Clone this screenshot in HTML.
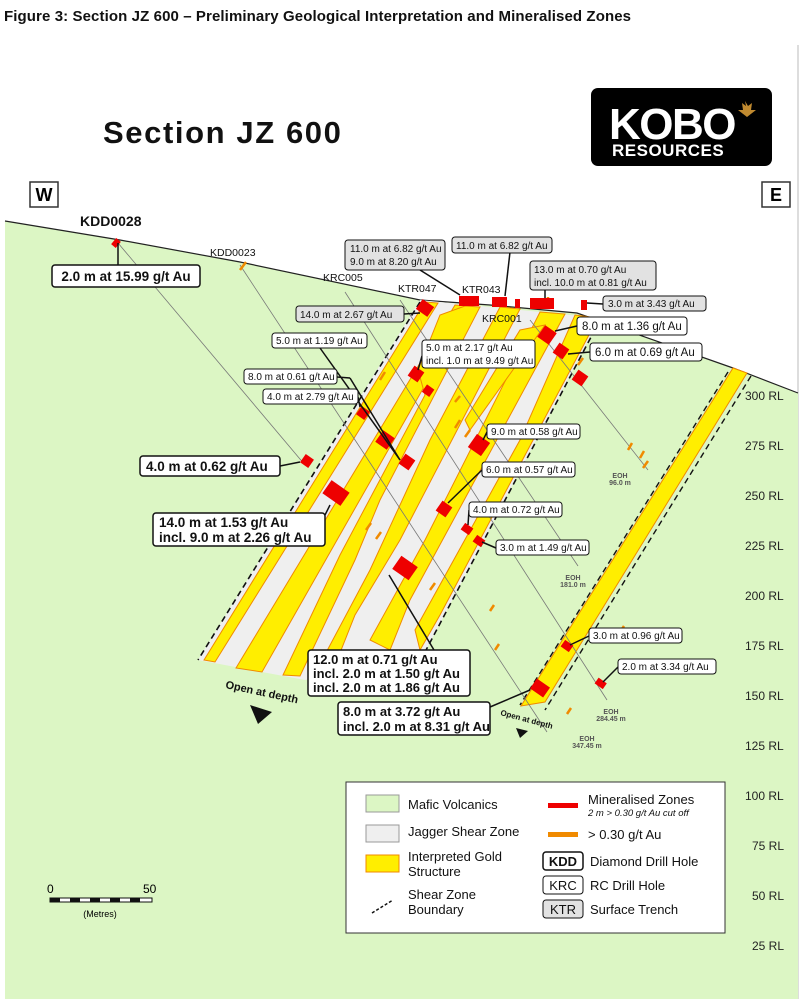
<!DOCTYPE html>
<html><head><meta charset="utf-8"><style>
body{margin:0;background:#fff;}
svg{display:block;font-family:"Liberation Sans",sans-serif;}
</style></head><body>
<svg width="802" height="999" viewBox="0 0 802 999" xmlns="http://www.w3.org/2000/svg">
<rect width="802" height="999" fill="#fff"/>
<text x="4" y="21" font-size="15" font-weight="bold" fill="#111" letter-spacing="0.1">Figure 3: Section JZ 600 – Preliminary Geological Interpretation and Mineralised Zones</text>
<line x1="798" y1="45" x2="798" y2="999" stroke="#bbb"/>
<polygon points="5,221 120,240 240,262 420,300 490,305 577,313 733,368 798,393 798,999 5,999" fill="#dcf6c4"/>
<polyline points="5,221 120,240 240,262 420,300 490,305 577,313 733,368 798,393" fill="none" stroke="#222" stroke-width="1.2"/>
<polygon points="420,300 600,318 425,652 305,680 198,660" fill="#efefef"/>
<g fill="#ffee00" stroke="#f08a00" stroke-width="1">
<polygon points="425,302 438,303 215,662 204,660"/>
<polygon points="455,305 470,306 262,672 236,668"/>
<polygon points="425,395 418,370 440,315 465,306 480,307 380,500 355,560 300,676 283,675 340,555"/>
<polygon points="500,307 520,309 400,540 355,615 330,678 312,679 370,570 430,440"/>
<polygon points="540,312 565,314 410,600 390,650 370,640 425,540"/>
<polygon points="575,315 598,318 440,615 420,650 415,630 520,440"/>
<polygon points="520,330 545,325 470,430 465,420"/>
</g>
<line x1="420" y1="302" x2="198" y2="660" stroke="#111" stroke-width="1.6" stroke-dasharray="6,4"/>
<line x1="600" y1="320" x2="425" y2="652" stroke="#111" stroke-width="1.6" stroke-dasharray="6,4"/>
<polygon points="733,368 747,373 545,702 521,706" fill="#ffee00" stroke="#f08a00"/>
<line x1="728" y1="372" x2="520" y2="705" stroke="#111" stroke-width="1.4" stroke-dasharray="6,4"/>
<line x1="751" y1="376" x2="545" y2="710" stroke="#111" stroke-width="1.4" stroke-dasharray="6,4"/>
<g stroke="#777" stroke-width="0.8">
<line x1="118" y1="243" x2="305" y2="465"/>
<line x1="240" y1="265" x2="547" y2="732"/>
<line x1="345" y1="292" x2="607" y2="700"/>
<line x1="400" y1="300" x2="578" y2="566"/>
<line x1="530" y1="320" x2="648" y2="470"/>
</g>
<g fill="#555" font-size="7" font-weight="bold" text-anchor="middle">
<text x="620" y="478">EOH</text><text x="620" y="485">96.0 m</text>
<text x="573" y="580">EOH</text><text x="573" y="587">181.0 m</text>
<text x="611" y="714">EOH</text><text x="611" y="721">284.45 m</text>
<text x="587" y="741">EOH</text><text x="587" y="748">347.45 m</text>
</g>
<g stroke="#f08a00" stroke-width="2.5">
<line x1="240" y1="270" x2="246" y2="262"/><line x1="380" y1="380" x2="385" y2="372"/>
<line x1="455" y1="402" x2="460" y2="396"/><line x1="455" y1="428" x2="460" y2="420"/>
<line x1="465" y1="437" x2="470" y2="430"/><line x1="366" y1="530" x2="371" y2="523"/>
<line x1="376" y1="539" x2="381" y2="532"/><line x1="430" y1="590" x2="435" y2="583"/>
<line x1="490" y1="611" x2="494" y2="605"/><line x1="495" y1="650" x2="499" y2="644"/>
<line x1="567" y1="714" x2="571" y2="708"/><line x1="620" y1="632" x2="624" y2="626"/>
<line x1="628" y1="450" x2="632" y2="443"/><line x1="640" y1="458" x2="644" y2="451"/>
<line x1="643" y1="468" x2="648" y2="461"/><line x1="578" y1="365" x2="583" y2="358"/>
<line x1="548" y1="305" x2="548" y2="297"/><line x1="470" y1="358" x2="476" y2="350"/>
</g>
<g fill="#ee0000">
<rect x="459" y="296" width="20" height="10"/><rect x="492" y="297" width="15" height="10"/>
<rect x="515" y="299" width="5" height="9"/><rect x="530" y="298" width="24" height="11"/>
<rect x="581" y="300" width="6" height="10"/>
<rect x="418" y="302" width="14" height="12" transform="rotate(35 425 308)"/>
<rect x="540" y="328" width="14" height="14" transform="rotate(35 547 335)"/>
<rect x="555" y="345" width="12" height="12" transform="rotate(35 561 351)"/>
<rect x="574" y="372" width="12" height="12" transform="rotate(35 580 378)"/>
<rect x="410" y="368" width="12" height="12" transform="rotate(35 416 374)"/>
<rect x="424" y="386" width="9" height="9" transform="rotate(35 428 390)"/>
<rect x="358" y="408" width="10" height="10" transform="rotate(35 363 413)"/>
<rect x="378" y="433" width="14" height="14" transform="rotate(35 385 440)"/>
<rect x="401" y="456" width="12" height="12" transform="rotate(35 407 462)"/>
<rect x="471" y="437" width="16" height="16" transform="rotate(35 479 445)"/>
<rect x="302" y="456" width="10" height="10" transform="rotate(35 307 461)"/>
<rect x="325" y="485" width="22" height="16" transform="rotate(35 336 493)"/>
<rect x="438" y="503" width="12" height="12" transform="rotate(35 444 509)"/>
<rect x="462" y="525" width="10" height="8" transform="rotate(35 467 529)"/>
<rect x="474" y="537" width="10" height="8" transform="rotate(35 479 541)"/>
<rect x="395" y="560" width="20" height="16" transform="rotate(35 405 568)"/>
<rect x="562" y="642" width="10" height="8" transform="rotate(35 567 646)"/>
<rect x="596" y="680" width="10" height="7" transform="rotate(35 601 683)"/>
<rect x="532" y="682" width="16" height="12" transform="rotate(35 540 688)"/>
<rect x="112" y="240" width="8" height="6" transform="rotate(-50 116 243)"/>
</g>
<g stroke="#111" stroke-width="1.5" fill="none">
<line x1="118" y1="243" x2="118" y2="265"/>
<line x1="420" y1="270" x2="460" y2="295"/>
<line x1="510" y1="252" x2="505" y2="296"/>
<line x1="545" y1="290" x2="545" y2="298"/>
<line x1="587" y1="303" x2="603" y2="304"/>
<line x1="404" y1="314" x2="420" y2="313"/>
<line x1="555" y1="331" x2="577" y2="326"/>
<line x1="568" y1="354" x2="590" y2="352"/>
<line x1="320" y1="348" x2="400" y2="460"/>
<line x1="422" y1="356" x2="418" y2="370"/>
<line x1="337" y1="377" x2="350" y2="378"/><line x1="350" y1="378" x2="400" y2="460"/>
<line x1="358" y1="397" x2="360" y2="407"/>
<line x1="487" y1="432" x2="483" y2="440"/>
<line x1="280" y1="466" x2="300" y2="462"/>
<line x1="482" y1="470" x2="448" y2="503"/>
<line x1="325" y1="515" x2="330" y2="505"/>
<line x1="469" y1="510" x2="468" y2="525"/>
<line x1="496" y1="548" x2="482" y2="542"/>
<line x1="389" y1="575" x2="434" y2="650"/>
<line x1="490" y1="707" x2="530" y2="690"/>
<line x1="589" y1="636" x2="570" y2="645"/>
<line x1="618" y1="667" x2="603" y2="682"/>
</g>
<g font-size="10" fill="#111">
<rect x="52" y="265" width="148" height="22" rx="3" fill="#fff" stroke="#111" stroke-width="1.5"/>
<text x="126" y="281" font-size="13.5" font-weight="bold" text-anchor="middle">2.0 m at 15.99 g/t Au</text>
<rect x="345" y="240" width="100" height="30" rx="3" fill="#e2e2e2" stroke="#111"/>
<text x="350" y="252">11.0 m at 6.82 g/t Au</text><text x="350" y="265">9.0 m at 8.20 g/t Au</text>
<rect x="452" y="237" width="100" height="16" rx="3" fill="#e2e2e2" stroke="#111"/>
<text x="456" y="249">11.0 m at 6.82 g/t Au</text>
<rect x="530" y="261" width="126" height="29" rx="3" fill="#e2e2e2" stroke="#111"/>
<text x="534" y="273">13.0 m at 0.70 g/t Au</text><text x="534" y="286">incl. 10.0 m at 0.81 g/t Au</text>
<rect x="603" y="296" width="103" height="15" rx="3" fill="#e2e2e2" stroke="#111"/>
<text x="608" y="307">3.0 m at 3.43 g/t Au</text>
<rect x="296" y="306" width="108" height="16" rx="3" fill="#e2e2e2" stroke="#111"/>
<text x="300" y="318">14.0 m at 2.67 g/t Au</text>
<rect x="577" y="317" width="110" height="18" rx="3" fill="#fff" stroke="#111"/>
<text x="582" y="330" font-size="11.5">8.0 m at 1.36 g/t Au</text>
<rect x="590" y="343" width="112" height="18" rx="3" fill="#fff" stroke="#111"/>
<text x="595" y="356" font-size="11.5">6.0 m at 0.69 g/t Au</text>
<rect x="272" y="333" width="95" height="15" rx="3" fill="#fff" stroke="#111"/>
<text x="276" y="344">5.0 m at 1.19 g/t Au</text>
<rect x="422" y="340" width="113" height="28" rx="3" fill="#fff" stroke="#111"/>
<text x="426" y="351">5.0 m at 2.17 g/t Au</text><text x="426" y="364">incl. 1.0 m at 9.49 g/t Au</text>
<rect x="244" y="369" width="93" height="15" rx="3" fill="#fff" stroke="#111"/>
<text x="248" y="380">8.0 m at 0.61 g/t Au</text>
<rect x="263" y="389" width="95" height="15" rx="3" fill="#fff" stroke="#111"/>
<text x="267" y="400">4.0 m at 2.79 g/t Au</text>
<rect x="487" y="424" width="93" height="15" rx="3" fill="#fff" stroke="#111"/>
<text x="491" y="435">9.0 m at 0.58 g/t Au</text>
<rect x="140" y="456" width="140" height="20" rx="3" fill="#fff" stroke="#111" stroke-width="1.5"/>
<text x="146" y="471" font-size="13.5" font-weight="bold">4.0 m at 0.62 g/t Au</text>
<rect x="482" y="462" width="93" height="15" rx="3" fill="#fff" stroke="#111"/>
<text x="486" y="473">6.0 m at 0.57 g/t Au</text>
<rect x="469" y="502" width="93" height="15" rx="3" fill="#fff" stroke="#111"/>
<text x="473" y="513">4.0 m at 0.72 g/t Au</text>
<rect x="496" y="540" width="93" height="15" rx="3" fill="#fff" stroke="#111"/>
<text x="500" y="551">3.0 m at 1.49 g/t Au</text>
<rect x="153" y="513" width="172" height="33" rx="3" fill="#fff" stroke="#111" stroke-width="1.5"/>
<text x="159" y="527" font-size="13.5" font-weight="bold">14.0 m at 1.53 g/t Au</text>
<text x="159" y="542" font-size="13.5" font-weight="bold">incl. 9.0 m at 2.26 g/t Au</text>
<rect x="589" y="628" width="93" height="15" rx="3" fill="#fff" stroke="#111"/>
<text x="593" y="639">3.0 m at 0.96 g/t Au</text>
<rect x="618" y="659" width="98" height="15" rx="3" fill="#fff" stroke="#111"/>
<text x="622" y="670">2.0 m at 3.34 g/t Au</text>
<rect x="308" y="650" width="162" height="46" rx="3" fill="#fff" stroke="#111" stroke-width="1.5"/>
<text x="313" y="664" font-size="13" font-weight="bold">12.0 m at 0.71 g/t Au</text>
<text x="313" y="678" font-size="13" font-weight="bold">incl. 2.0 m at 1.50 g/t Au</text>
<text x="313" y="692" font-size="13" font-weight="bold">incl. 2.0 m at 1.86 g/t Au</text>
<rect x="338" y="702" width="152" height="33" rx="3" fill="#fff" stroke="#111" stroke-width="1.5"/>
<text x="343" y="716" font-size="13" font-weight="bold">8.0 m at 3.72 g/t Au</text>
<text x="343" y="731" font-size="13" font-weight="bold">incl. 2.0 m at 8.31 g/t Au</text>
</g>
<g fill="#111" font-size="10.5">
<text x="80" y="226" font-size="14" font-weight="bold">KDD0028</text>
<text x="210" y="256">KDD0023</text>
<text x="323" y="281">KRC005</text>
<text x="398" y="292">KTR047</text>
<text x="462" y="293">KTR043</text>
<text x="482" y="322">KRC001</text>
</g>
<text x="225" y="688" font-size="11" font-weight="bold" fill="#111" transform="rotate(12 225 688)">Open at depth</text>
<polygon points="250,705 272,712 258,724" fill="#111"/>
<text x="500" y="715" font-size="8" font-weight="bold" fill="#111" transform="rotate(15 500 715)">Open at depth</text>
<polygon points="516,728 528,731 520,738" fill="#111"/>
<text x="103" y="143" font-size="31" font-weight="bold" fill="#111" letter-spacing="1.6">Section JZ 600</text>
<rect x="591" y="88" width="181" height="78" rx="7" fill="#000"/>
<text x="609" y="139" font-size="44" font-weight="bold" fill="#fff" letter-spacing="-1.5">KOBO</text>
<text x="612" y="156" font-size="17" font-weight="bold" fill="#fff" letter-spacing="0.5">RESOURCES</text>
<polygon points="745,101 748,106 752,103 751,110 756,110 747,117 738,110 743,110 742,103 746,106" fill="#c08a30"/>
<rect x="30" y="182" width="28" height="25" fill="#fff" stroke="#333" stroke-width="1.5"/>
<text x="44" y="201" font-size="18" font-weight="bold" text-anchor="middle">W</text>
<rect x="762" y="182" width="28" height="25" fill="#fff" stroke="#333" stroke-width="1.5"/>
<text x="776" y="201" font-size="18" font-weight="bold" text-anchor="middle">E</text>
<g font-size="12" fill="#222">
<text x="745" y="400">300 RL</text><text x="745" y="450">275 RL</text><text x="745" y="500">250 RL</text>
<text x="745" y="550">225 RL</text><text x="745" y="600">200 RL</text><text x="745" y="650">175 RL</text>
<text x="745" y="700">150 RL</text><text x="745" y="750">125 RL</text><text x="745" y="800">100 RL</text>
<text x="752" y="850">75 RL</text><text x="752" y="900">50 RL</text><text x="752" y="950">25 RL</text>
</g>
<rect x="346" y="782" width="379" height="151" fill="#fff" stroke="#333"/>
<g font-size="13" fill="#111">
<rect x="366" y="795" width="33" height="17" fill="#dcf6c4" stroke="#999"/><text x="408" y="809">Mafic Volcanics</text>
<rect x="366" y="825" width="33" height="17" fill="#efefef" stroke="#999"/><text x="408" y="836">Jagger Shear Zone</text>
<rect x="366" y="855" width="33" height="17" fill="#ffee00" stroke="#f08a00"/><text x="408" y="861">Interpreted Gold</text><text x="408" y="876">Structure</text>
<line x1="372" y1="913" x2="393" y2="900" stroke="#111" stroke-width="1.5" stroke-dasharray="3,2"/>
<text x="408" y="899">Shear Zone</text><text x="408" y="914">Boundary</text>
<rect x="548" y="803" width="30" height="5" fill="#ee0000"/><text x="588" y="804">Mineralised Zones</text>
<text x="588" y="816" font-size="9.5" font-style="italic">2 m &gt; 0.30 g/t Au cut off</text>
<rect x="548" y="832" width="30" height="5" fill="#f08a00"/><text x="588" y="839">&gt; 0.30 g/t Au</text>
<rect x="543" y="852" width="40" height="18" rx="3" fill="#fff" stroke="#111" stroke-width="1.5"/><text x="563" y="866" text-anchor="middle" font-weight="bold">KDD</text><text x="590" y="866">Diamond Drill Hole</text>
<rect x="543" y="876" width="40" height="18" rx="3" fill="#fff" stroke="#111"/><text x="563" y="890" text-anchor="middle">KRC</text><text x="590" y="890">RC Drill Hole</text>
<rect x="543" y="900" width="40" height="18" rx="3" fill="#e2e2e2" stroke="#111"/><text x="563" y="914" text-anchor="middle">KTR</text><text x="590" y="914">Surface Trench</text>
</g>
<text x="47" y="893" font-size="12">0</text><text x="143" y="893" font-size="12">50</text>
<rect x="50" y="898" width="102" height="4" fill="#fff" stroke="#111"/>
<g fill="#111"><rect x="50" y="898" width="10" height="4"/><rect x="70" y="898" width="10" height="4"/><rect x="90" y="898" width="10" height="4"/><rect x="110" y="898" width="10" height="4"/><rect x="130" y="898" width="10" height="4"/></g>
<text x="100" y="917" font-size="9" text-anchor="middle">(Metres)</text>
</svg>
</body></html>
